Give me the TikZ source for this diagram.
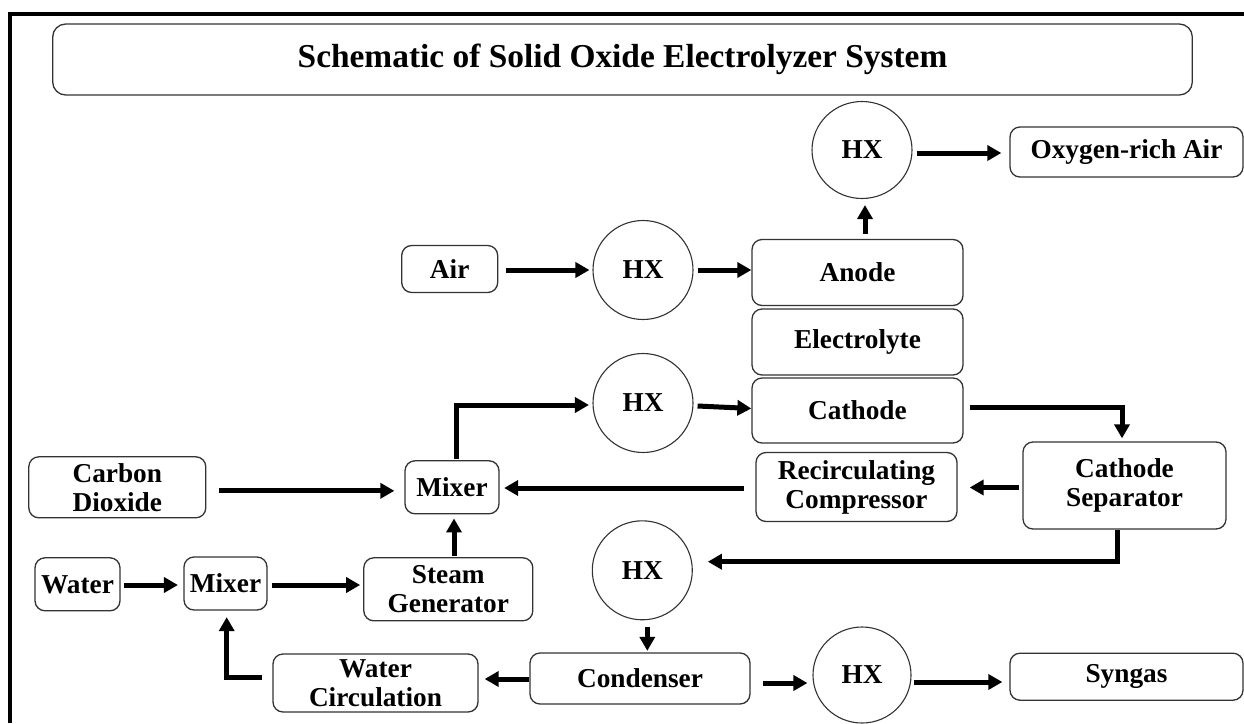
\documentclass[tikz,border=0pt]{standalone}
\usepackage{fontspec}
\setmainfont{Liberation Serif}
\usetikzlibrary{shapes.geometric,arrows.meta,calc}
\newcommand{\nf}{\bfseries\fontsize{27.3}{29}\selectfont}
\newcommand{\tf}{\bfseries\fontsize{33.4}{36}\selectfont}
\begin{document}
\begin{tikzpicture}[x=1pt,y=-1pt,
  box/.style={draw=black!80,line width=1.3pt,rounded corners=10pt,inner sep=0pt,align=center,font=\nf},
  hx/.style={draw=black!80,line width=1.1pt,ellipse,minimum width=100pt,minimum height=99pt,inner sep=0pt,font=\nf},
  arr/.style={line width=5pt,-{Triangle[length=14pt,width=15pt]}}]
\useasboundingbox (0,0) rectangle (1244,723);
\fill[white] (0,0) rectangle (1244,723);
% frame
\draw[line width=4pt] (9.5,723) -- (9.5,13.5) -- (1244,13.5);
% title
\node[box,rounded corners=13pt,minimum width=1139.6pt,minimum height=71pt,font=\tf] (title) at (622.5,59.5) {Schematic of Solid Oxide Electrolyzer System};
% nodes
\node[hx,minimum height=97pt] (hxO) at (862,150) {HX};
\node[box,minimum width=233pt,minimum height=50pt] (oxy) at (1126.5,152) {Oxygen-rich Air};
\node[box,minimum width=96pt,minimum height=47pt] (air) at (449.7,269) {Air};
\node[hx] (hx1) at (643,270) {HX};
\node[box,minimum width=211pt,minimum height=66pt] (anode) at (857.5,272.5) {Anode};
\node[box,minimum width=211pt,minimum height=66pt] (elec) at (857.5,342) {Electrolyte};
\node[box,minimum width=211pt,minimum height=65pt] (cathode) at (857.5,410.5) {Cathode};
\node[hx] (hx2) at (643,403) {HX};
\node[box,minimum width=203pt,minimum height=87pt] (sep) at (1124.5,485.5) {Cathode\\Separator};
\node[box,minimum width=201pt,minimum height=69pt] (recirc) at (856.5,487) {Recirculating\\Compressor};
\node[box,minimum width=94pt,minimum height=53pt] (mixU) at (452,487.3) {Mixer};
\node[box,minimum width=177pt,minimum height=61pt] (co2) at (117.3,487.3) {Carbon\\Dioxide};
\node[box,minimum width=169pt,minimum height=63pt] (steam) at (448.3,589.3) {Steam\\Generator};
\node[box,minimum width=85pt,minimum height=53pt] (water) at (77.5,584.3) {Water};
\node[box,minimum width=83pt,minimum height=53pt] (mixL) at (225.5,583.5) {Mixer};
\node[box,minimum width=205pt,minimum height=58pt] (wcirc) at (375.5,683) {Water\\Circulation};
\node[hx] (hx3) at (642.3,570.3) {HX};
\node[box,minimum width=220pt,minimum height=51pt] (cond) at (640,678.5) {Condenser};
\node[hx,minimum width=98pt,minimum height=96pt] (hx4) at (862,675) {HX};
\node[box,minimum width=233pt,minimum height=47pt] (syngas) at (1126.5,676.7) {Syngas};
% connectors
\draw[arr] ($(air.east)+(8,1)$) -- ($(air.east -| hx1.west)+(-3,1)$);
\draw[arr] ($(hx1.east)+(4,0)$) -- (hx1.east -| anode.west);
\draw[arr] ($(hxO.south |- anode.north)+(3,-5)$) -- ($(hxO.south)+(3,6)$);
\draw[arr] ($(hxO.east)+(4,3)$) -- ($(hxO.east -| oxy.west)+(-8,3)$);
\draw[arr] ($(mixU.north)+(4,-1)$) |- ($(hx2.west)+(-3.5,2)$);
\draw[arr] ($(hx2.east)+(4,3)$) -- ($(cathode.west)+(0,-2)$);
\draw[arr] ($(cathode.east)+(6,-3)$) -| ($(sep.north)+(-2.5,-3)$);
\draw[arr] ($(sep.west)+(-3,2)$) -- ($(sep.west -| recirc.east)+(12,2)$);
\draw[arr] ($(recirc.west)+(-11,1)$) -- ($(recirc.west -| mixU.east)+(4.5,1)$);
\draw[arr] ($(co2.east)+(12.5,3.5)$) -- ($(co2.east -| mixU.west)+(-10,3.5)$);
\draw[arr] ($(mixU.south |- steam.north)+(2,-1.5)$) -- ($(mixU.south)+(2,4)$);
\draw[arr] ($(water.east)+(3,0.7)$) -- ($(water.east -| mixL.west)+(-5.4,0.7)$);
\draw[arr] ($(mixL.east)+(4,1.5)$) -- ($(mixL.east -| steam.west)+(-3,1.5)$);
\draw[arr] ($(sep.south)+(-7.5,0)$) |- ($(hx3.east)+(15,-8.6)$);
\draw[arr] ($(hx3.south)+(5,7)$) -- ($(hx3.south |- cond.north)+(5,-1.5)$);
\draw[arr] ($(cond.west)+(0,0.5)$) -- ($(cond.west -| wcirc.east)+(6,0.5)$);
\draw[arr] ($(wcirc.west)+(-10.5,-6)$) -| ($(mixL.south)+(1.2,6.5)$);
\draw[arr] ($(cond.east)+(12,4.5)$) -- ($(cond.east -| hx4.west)+(-5,4.5)$);
\draw[arr] ($(hx4.east)+(2,7)$) -- ($(hx4.east -| syngas.west)+(-7,7)$);
\end{tikzpicture}
\end{document}
